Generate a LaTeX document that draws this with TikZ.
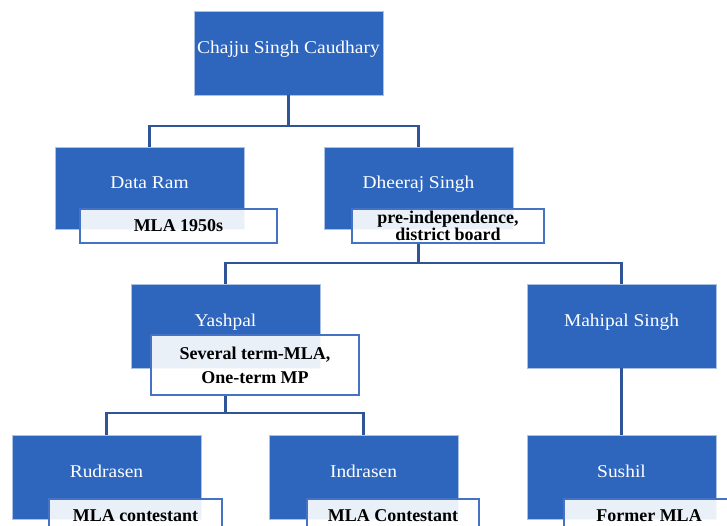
\documentclass[tikz,border=0pt]{standalone}
\usepackage{fontspec}
\setmainfont{Liberation Serif}
\newfontfamily\wfont{Liberation Serif}[FakeStretch=1.08]
\definecolor{boxblue}{RGB}{46,102,190}
\definecolor{lineblue}{RGB}{47,85,151}
\definecolor{tagblue}{RGB}{68,114,196}
\tikzset{
  person/.style={fill=boxblue, draw=boxblue!40!white, line width=0.5pt,
    minimum width=189pt, minimum height=84pt, inner sep=0pt,
    text=white, font=\wfont\fontsize{18}{20}\selectfont,
    text height=6pt, text depth=6pt},
  tag/.style={fill=white, fill opacity=0.9, text opacity=1, draw=tagblue,
    draw opacity=1, line width=1.6pt, inner sep=0pt, align=center,
    font=\bfseries\fontsize{18}{15}\selectfont, text=black},
  conn/.style={draw=lineblue, line width=2.2pt}
}
\begin{document}
\begin{tikzpicture}[x=1pt,y=-1pt]
\useasboundingbox (0,0) rectangle (727,525);
\clip (0,0) rectangle (727,525);
% blue person boxes
\node[person] (chajju) at (288.5,53) {Chajju Singh Caudhary};
\node[person, minimum height=82pt] (dataram) at (149.5,188) {Data Ram};
\node[person, minimum height=82pt] (dheeraj) at (418.5,188) {Dheeraj  Singh};
\node[person] (yashpal) at (225.5,326) {Yashpal};
\node[person] (mahipal) at (621.5,326) {Mahipal Singh};
\node[person] (rudrasen) at (106.5,477) {Rudrasen};
\node[person] (indrasen) at (363.5,477) {Indrasen};
\node[person] (sushil) at (621.5,477) {Sushil};
% tags
\node[tag, minimum width=197pt, minimum height=34pt] (t1) at (178.5,226) {MLA 1950s};
\node[tag, minimum width=192pt, minimum height=34pt] (t2) at (448,226) {pre-independence,\\district board};
\node[tag, minimum width=208pt, minimum height=60pt, font=\bfseries\fontsize{18}{24}\selectfont] (t3) at (255,365) {Several term-MLA,\\One-term MP};
\node[tag, minimum width=173pt, minimum height=46pt, text depth=12pt] (t4) at (135.5,522) {MLA contestant};
\node[tag, minimum width=172pt, minimum height=46pt, text depth=12pt] (t5) at (393,522) {MLA Contestant};
\node[tag, minimum width=170pt, minimum height=46pt, text depth=12pt] (t6) at (649,522) {Former MLA};
% connectors
\begin{scope}[on background layer/.style={}]
\end{scope}
\coordinate (j1) at (288.5,126);
\coordinate (j2) at (418.5,263);
\coordinate (j3) at (225.5,413);
\draw[conn] (chajju.south) -- (j1);
\draw[conn] (dataram.north) |- (j1) -| (dheeraj.north);
\draw[conn] (dheeraj.south |- t2.south) -- (j2);
\draw[conn] (yashpal.north) |- (j2) -| (mahipal.north);
\draw[conn] (yashpal.south |- t3.south) -- (j3);
\draw[conn] (rudrasen.north) |- (j3) -| (indrasen.north);
\draw[conn] (mahipal.south) -- (sushil.north);
\end{tikzpicture}
\end{document}
